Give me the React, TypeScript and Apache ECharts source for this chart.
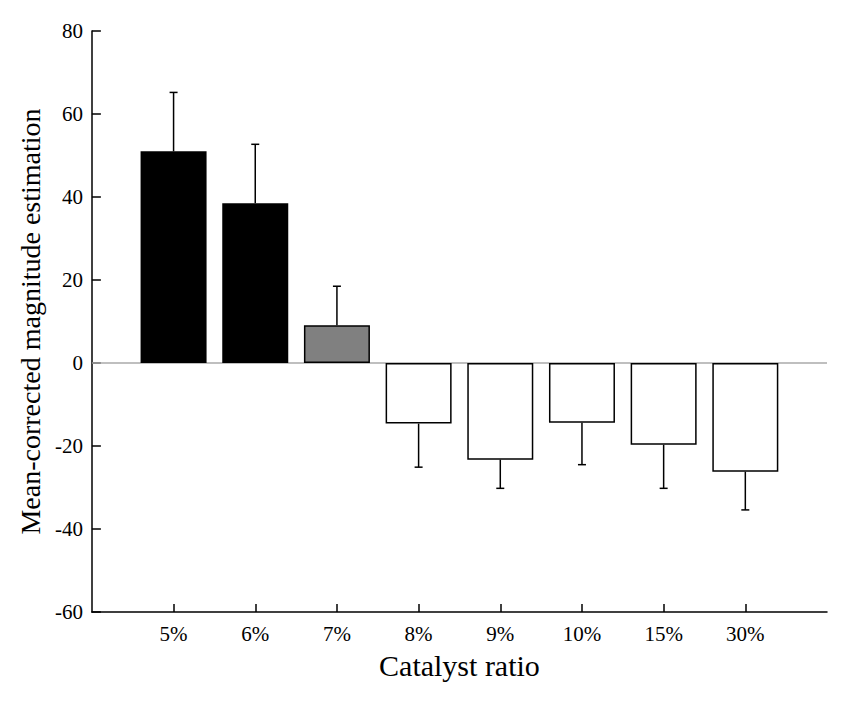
import React, { useEffect, useRef } from "react";
import * as echarts from "echarts";

const categories = ["5%", "6%", "7%", "8%", "9%", "10%", "15%", "30%"];
const means = [51, 38.5, 9.1, -14.6, -23.3, -14.4, -19.7, -26.2];
const errors = [14.2, 14.2, 9.4, 10.5, 6.9, 10.1, 10.5, 9.2];
const barColors = ["#000000", "#000000", "#808080", "#ffffff", "#ffffff", "#ffffff", "#ffffff", "#ffffff"];
const yTicks = { min: -60, max: 80, interval: 20 };

const FONT = "Liberation Serif";
const labelRich = { t: { fontFamily: FONT, fontSize: 21, color: "#000" } };

export default function App() {
  const ref = useRef<HTMLDivElement>(null);
  useEffect(() => {
    if (!ref.current) return;
    const chart = echarts.init(ref.current, null, { renderer: "svg" });
    const axisCats = ["", ...categories, ""];
    const barData: any[] = [
      null,
      ...means.map((v, i) => ({
        value: v,
        itemStyle: {
          color: barColors[i],
          borderColor: "#000",
          borderWidth: barColors[i] === "#000000" ? 0 : 1.5,
        },
      })),
      null,
    ];
    const errData = means.map((v, i) => [i + 1, v, v >= 0 ? v + errors[i] : v - errors[i]]);
    chart.setOption({
      animation: false,
      backgroundColor: "#ffffff",
      textStyle: { fontFamily: FONT, color: "#000", fontSize: 21 },
      grid: { left: 83, right: 15, top: 23, bottom: 83, containLabel: false },
      xAxis: {
        type: "category",
        data: axisCats,
        boundaryGap: false,
        name: "Catalyst ratio",
        nameLocation: "middle",
        nameGap: 38,
        nameTextStyle: { fontFamily: FONT, fontSize: 30, color: "#000" },
        axisLine: { show: true, onZero: false, lineStyle: { color: "#000", width: 1.5 } },
        axisTick: {
          show: true,
          inside: true,
          length: 8,
          interval: (idx: number, val: string) => val !== "",
          lineStyle: { color: "#000", width: 1.5 },
        },
        axisLabel: {
          fontFamily: FONT,
          fontSize: 21,
          color: "#000",
          margin: 11,
          interval: 0,
          formatter: (v: string) => (v === "" ? "" : "{t|" + v + "}"),
          rich: labelRich,
        },
        splitLine: { show: false },
      },
      yAxis: {
        type: "value",
        min: yTicks.min,
        max: yTicks.max,
        interval: yTicks.interval,
        name: "Mean-corrected magnitude estimation",
        nameLocation: "middle",
        nameGap: 42,
        nameTextStyle: { fontFamily: FONT, fontSize: 28, color: "#000" },
        axisLine: { show: true, lineStyle: { color: "#000", width: 1.5 } },
        axisTick: { show: true, inside: true, length: 9, lineStyle: { color: "#000", width: 1.5 } },
        axisLabel: {
          fontFamily: FONT,
          fontSize: 21,
          color: "#000",
          margin: 9,
          formatter: (v: number) => "{t|" + v + "}",
          rich: labelRich,
        },
        splitLine: { show: false },
      },
      series: [
        {
          type: "bar",
          data: barData,
          barWidth: 66,
          z: 2,
          markLine: {
            silent: true,
            symbol: "none",
            label: { show: false },
            lineStyle: { color: "#aaaaaa", width: 1.5, type: "solid" },
            data: [{ yAxis: 0 }],
            z: 1,
          },
        },
        {
          type: "custom",
          z: 3,
          data: errData,
          renderItem: (params: any, api: any) => {
            const x = api.value(0);
            const base = api.coord([x, api.value(1)]);
            const end = api.coord([x, api.value(2)]);
            const cap = 4;
            const style = { stroke: "#000", lineWidth: 1.5 };
            return {
              type: "group",
              children: [
                { type: "line", shape: { x1: base[0], y1: base[1], x2: end[0], y2: end[1] }, style },
                { type: "line", shape: { x1: end[0] - cap, y1: end[1], x2: end[0] + cap, y2: end[1] }, style },
              ],
            };
          },
        },
      ],
    });
    return () => chart.dispose();
  }, []);
  return <div ref={ref} style={{ width: 834, height: 687 }} />;
}
